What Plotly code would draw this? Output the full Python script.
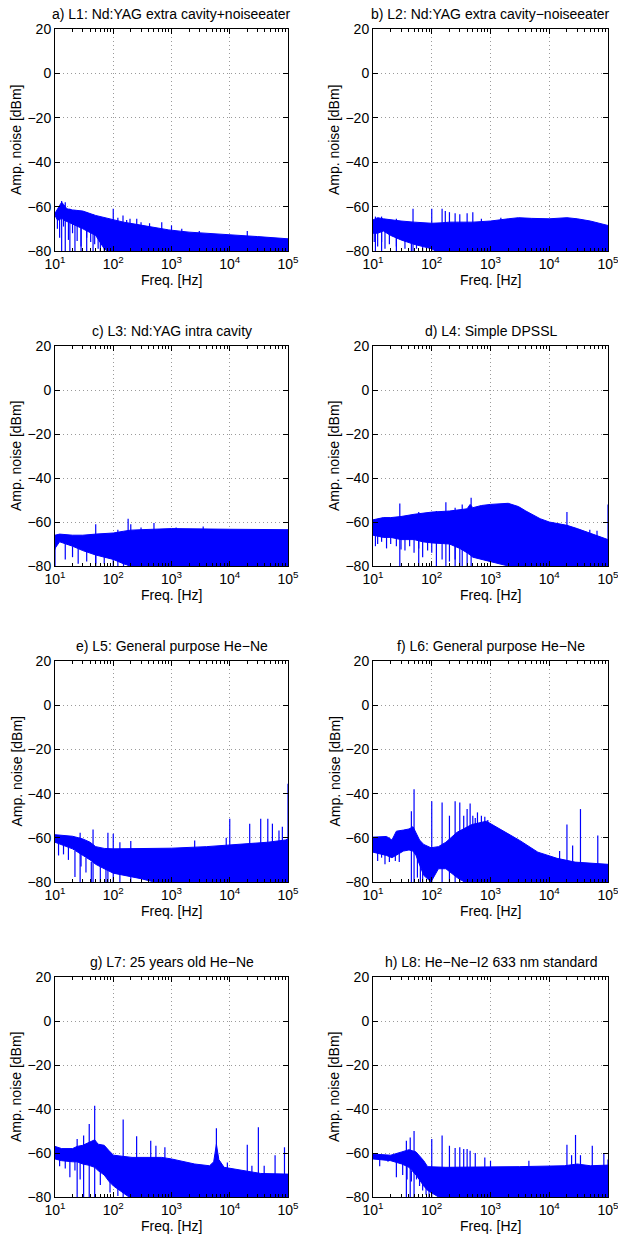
import plotly.graph_objects as go

# ---------------- data ----------------
titles = ["a) L1: Nd:YAG extra cavity+noiseeater",
          "b) L2: Nd:YAG extra cavity\u2212noiseeater",
          "c) L3: Nd:YAG intra cavity",
          "d) L4: Simple DPSSL",
          "e) L5: General purpose He\u2212Ne",
          "f) L6: General purpose He\u2212Ne",
          "g) L7: 25 years old He\u2212Ne",
          "h) L8: He\u2212Ne\u2212I2 633 nm standard"]

# Panel a
a_f = [10, 11, 12, 13, 14, 16, 20, 30, 50, 60, 70, 100, 150, 250, 500, 900, 2000, 4000, 1e4, 3e4, 1e5]
a_up = [-63, -61, -59, -58, -59, -61, -61.5, -62, -64, -64.5, -65, -66, -67, -68, -69.5, -70.5, -71.5, -72, -72.5, -73.5, -74.5]
a_lo = [-64, -66, -66, -65, -66, -67, -68, -70, -73, -76, -79, -82, -82, -82, -82, -82, -82, -82, -82, -82, -82]
a_spk_f = [13, 15, 18, 22, 28, 35, 45, 100, 120, 147, 170, 194, 253, 300, 420, 680, 1000, 1500, 3000, 2e4]
a_spk_v = [-57.5, -58, -61, -61.5, -62, -62.5, -63.5, -61, -65, -64, -66, -65.5, -65.5, -67, -67.5, -67, -68.5, -70, -71, -71]
a_dip_f = [11, 12, 14, 17, 20, 24, 28, 35, 41, 48, 55, 60, 70, 84]
a_dip_lo = [-70, -74, -69, -75, -72, -75.5, -78, -74, -76, -77, -79, -80, -80, -80]
a_dip_hi = [-63, -64, -64, -64, -64, -65, -66, -67, -68, -70, -71, -72, -74, -76]

# Panel b
b_f = [10, 12, 15, 20, 30, 50, 100, 150, 200, 500, 1000, 2000, 3000, 5000, 1e4, 2e4, 3e4, 5e4, 7e4, 1e5]
b_up = [-66, -65, -65.5, -66, -66.5, -67, -67.5, -67.3, -67, -67, -66.5, -65.5, -65, -65.3, -65.5, -65, -65.5, -66.5, -67.5, -68.5]
b_lo = [-72, -72, -71, -73, -75, -77, -79, -82, -82, -82, -82, -82, -82, -82, -82, -82, -82, -82, -82, -82]
b_spk_f = [11, 14, 25, 48, 100, 150, 170, 200, 250, 300, 400, 500, 700, 1500]
b_spk_v = [-64.5, -64.5, -65.5, -61, -61, -61, -62, -62.5, -63, -63.5, -63, -62.5, -65.5, -65]
b_dip_f = [10.5, 12, 14, 16, 19, 25, 35, 45, 55, 70]
b_dip_lo = [-76, -78, -76, -79, -77, -78, -79, -80, -79, -80]
b_dip_hi = [-70, -70, -70, -71, -71, -72, -73, -74, -75, -76]

# Panel c
c_f = [10, 12, 20, 30, 50, 100, 150, 200, 300, 500, 1000, 1e4, 1e5]
c_up = [-66, -65.5, -66, -66, -65.5, -65, -64.2, -63.7, -63.5, -63.2, -63, -63.3, -63.5]
c_lo = [-72, -69, -71, -73, -75, -77, -79, -80, -82, -82, -82, -82, -82]
c_spk_f = [10, 50, 120, 180, 200, 300, 500, 1200, 3500]
c_spk_v = [-66, -61, -63.5, -58.5, -61, -62.5, -60.5, -62.5, -62]
c_dip_f = [10, 15, 20, 25, 35, 50, 70, 100, 150]
c_dip_lo = [-72.5, -77, -76, -79, -78, -79, -79, -80, -80]
c_dip_hi = [-68, -70, -71, -72, -73, -74, -75, -76, -78]

# Panel d
d_f = [10, 15, 20, 30, 50, 70, 100, 200, 300, 400, 450, 500, 700, 1000, 2000, 3000, 4000, 5000, 7000, 1e4, 2e4, 3e4, 5e4, 7e4, 1e5]
d_up = [-59, -58, -58, -57.5, -56.5, -56, -55.5, -55, -54.5, -54, -52, -53.5, -52.5, -52, -51.5, -53, -55, -56.5, -58.5, -60, -61.5, -63, -65, -66.5, -68]
d_lo = [-66, -67, -67, -68, -68, -69, -69.5, -70, -72, -74, -75, -76, -77, -78, -80, -82, -82, -82, -82, -82, -82, -82, -82, -82, -82]
d_spk_f = [28.6, 60, 120, 174, 250, 330, 468, 2e4, 4.9e4, 6.5e4, 1e5]
d_spk_v = [-51.6, -55.5, -55, -51, -53.5, -52, -49, -55.4, -63.5, -64, -52]
d_dip_f = [11, 12, 14, 17, 20, 25, 30, 35, 42, 50, 60, 70, 85, 100, 150, 200, 250, 300, 400]
d_dip_lo = [-71, -70, -69, -72, -70, -71, -72.5, -73, -71, -74, -72, -76, -73, -74, -77, -78, -77, -80, -80]
d_dip_hi = [-64, -64, -64, -65, -65, -65, -66, -66, -66, -66, -67, -67, -67, -67, -68, -68, -69, -70, -72]

# Panel e
e_f = [10, 20, 30, 40, 50, 70, 100, 300, 1000, 4000, 8000, 1.6e4, 4.5e4, 9e4, 1e5]
e_up = [-58.6, -59.3, -60.5, -62, -64, -64.8, -65, -65, -64.7, -64, -63.5, -62.7, -62, -61, -60.5]
e_lo = [-62, -65, -68, -70, -72, -74, -76, -78.5, -82, -82, -82, -82, -82, -82, -82]
e_spk_f = [27, 45, 81, 100, 130, 200, 2500, 8700, 1e4, 2.2e4, 3.4e4, 4.5e4, 5.4e4, 7e4, 8e4, 1e5]
e_spk_v = [-57.7, -56.2, -57.7, -58.2, -62, -61.5, -61.2, -60, -51.4, -53.6, -51.4, -51.4, -53.6, -56.7, -55, -35.5]
e_dip_f = [11.5, 14, 17, 22, 28, 34, 42, 60, 75]
e_dip_lo = [-68, -67.5, -70, -77.7, -73, -75.7, -80, -80, -80]
e_dip_hi = [-62, -63, -64, -66, -67, -69, -71, -73, -74]

# Panel f
f_f = [10, 17, 21, 25, 33, 41, 48, 54, 62, 73, 97, 130, 174, 270, 480, 850, 1140, 2040, 3140, 6400, 1.36e4, 2.75e4, 1e5]
f_up = [-59.7, -59.4, -61, -57, -56.5, -56, -55, -58, -61, -63, -64.5, -64, -62, -57.5, -54, -52.5, -54.5, -58.2, -61.2, -66.5, -69.3, -71, -72]
f_lo = [-66.5, -68, -69, -68, -66, -65.5, -66, -68, -72, -77, -80, -74, -74, -78, -82, -82, -82, -82, -82, -82, -82, -82, -82]
f_spk_f = [45, 50, 100, 150, 200, 250, 300, 350, 400, 450, 500, 550, 600, 700, 800, 900, 1.5e4, 2e4, 2.5e4, 3.4e4, 6.7e4]
f_spk_v = [-48, -38, -43.5, -44, -50, -43.5, -44, -50, -47, -44.5, -50, -51, -48.5, -50, -50.5, -52, -66, -54, -63.5, -47, -59]
f_dip_f = [12, 14, 16, 19, 24, 28, 57, 64, 70]
f_dip_lo = [-70.5, -69, -72, -71, -70.5, -71, -78, -80, -80]
f_dip_hi = [-64, -64, -65, -65, -64, -63, -66, -70, -74]

# Panel g
g_f = [10, 13, 20, 24, 30, 37, 48, 55, 70, 85, 101, 210, 680, 1000, 2500, 4500, 5300, 5900, 6500, 8000, 1.7e4, 3.4e4, 1e5]
g_up = [-57, -58, -58, -57, -56.5, -55.5, -54, -56, -56.5, -59, -61, -62, -62, -62.7, -65, -65.8, -64, -56, -63, -66.5, -68, -69.3, -69.6]
g_lo = [-62.7, -63.5, -64, -64, -65, -65.5, -66.5, -68, -70, -73, -75, -81, -82, -82, -82, -82, -82, -82, -82, -82, -82, -82, -82]
g_spk_f = [24, 31, 38.7, 48, 148, 252, 440, 540, 770, 5900, 9100, 2e4, 2.4e4, 3.1e4, 3.9e4, 6e4, 8.7e4]
g_spk_v = [-53.6, -52, -46.8, -38.5, -44.8, -52.4, -54.4, -56.7, -57.4, -48.7, -64.3, -56.2, -65.8, -48.3, -65.8, -61, -57.4]
g_dip_f = [12, 15, 18, 22, 27, 60, 88, 120]
g_dip_lo = [-66, -67, -71, -68, -72, -74.6, -78, -79.5]
g_dip_hi = [-62, -62, -63, -63, -64, -67, -70, -73]

# Panel h
h_f = [10, 20, 31, 41, 54, 63, 73, 85, 174, 3140, 1.8e4, 3e4, 5e4, 1e5]
h_up = [-60.5, -61, -59.5, -58.5, -59.5, -61.5, -63.5, -66.2, -66.5, -66.2, -65.8, -65, -65.8, -65.5]
h_lo = [-62.7, -63.5, -65, -66.5, -70, -72.5, -75, -77, -82, -82, -82, -82, -82, -82]
h_spk_f = [37, 43, 50, 100, 150, 200, 250, 300, 350, 400, 450, 550, 800, 1000, 4500, 2e4, 2.4e4, 2.8e4, 3.4e4, 5.4e4, 8.5e4, 1e5]
h_spk_v = [-54.4, -53, -50, -53.6, -52, -56.7, -57.7, -57.4, -58.2, -58.2, -59, -60, -62, -63.5, -63.5, -56.2, -61, -51.8, -61, -56.7, -60, -63]
h_dip_f = [13, 18, 25, 32, 38, 45, 55, 62, 70, 80, 90]
h_dip_lo = [-66, -64, -71, -70, -72, -73, -72, -75, -77, -79, -80]
h_dip_hi = [-62, -62, -64, -65, -66, -68, -69, -71, -73, -75, -77]

panels = [
    (a_f, a_up, a_lo, a_spk_f, a_spk_v, a_dip_f, a_dip_lo, a_dip_hi),
    (b_f, b_up, b_lo, b_spk_f, b_spk_v, b_dip_f, b_dip_lo, b_dip_hi),
    (c_f, c_up, c_lo, c_spk_f, c_spk_v, c_dip_f, c_dip_lo, c_dip_hi),
    (d_f, d_up, d_lo, d_spk_f, d_spk_v, d_dip_f, d_dip_lo, d_dip_hi),
    (e_f, e_up, e_lo, e_spk_f, e_spk_v, e_dip_f, e_dip_lo, e_dip_hi),
    (f_f, f_up, f_lo, f_spk_f, f_spk_v, f_dip_f, f_dip_lo, f_dip_hi),
    (g_f, g_up, g_lo, g_spk_f, g_spk_v, g_dip_f, g_dip_lo, g_dip_hi),
    (h_f, h_up, h_lo, h_spk_f, h_spk_v, h_dip_f, h_dip_lo, h_dip_hi),
]

x_tickvals = [10, 100, 1000, 10000, 100000]
x_ticktext = ["10<sup>1</sup>", "10<sup>2</sup>", "10<sup>3</sup>", "10<sup>4</sup>", "10<sup>5</sup>"]
y_tickvals = [-80, -60, -40, -20, 0, 20]

# ---------------- layout ----------------
W, H = 618, 1237
col_px = [(55, 288), (373, 608)]
row_px = [(29, 251), (346, 566), (661, 882), (977, 1197)]
FONT = "Liberation Sans, Arial, Helvetica, sans-serif"
BLUE = "#0000ff"
GRID = "#9a9a9a"

minor_vals = [m * 10 ** k for k in range(1, 5) for m in range(2, 10)]

fig = go.Figure()
layout = dict(width=W, height=H, autosize=False,
              margin=dict(l=0, r=0, t=0, b=0, pad=0, autoexpand=False),
              paper_bgcolor="white", plot_bgcolor="white", showlegend=False,
              font=dict(family=FONT, size=14, color="black"))
annotations = []

for i, (fq, up, lo, sf, sv, df, dlo, dhi) in enumerate(panels):
    r, c = divmod(i, 2)
    x0, x1 = col_px[c]
    y0, y1 = row_px[r]
    xs = "x" if i == 0 else f"x{i+1}"
    ys = "y" if i == 0 else f"y{i+1}"
    xk = "xaxis" if i == 0 else f"xaxis{i+1}"
    yk = "yaxis" if i == 0 else f"yaxis{i+1}"

    # noise band
    fig.add_trace(go.Scatter(x=list(fq) + list(fq)[::-1], y=list(up) + list(lo)[::-1],
                             mode="lines", fill="toself", fillcolor=BLUE,
                             line=dict(color=BLUE, width=1), xaxis=xs, yaxis=ys,
                             hoverinfo="skip"))
    # spikes
    sx, sy = [], []
    for fv, vv in zip(sf, sv):
        sx += [fv, fv, None]
        sy += [-80, vv, None]
    fig.add_trace(go.Scatter(x=sx, y=sy, mode="lines", line=dict(color=BLUE, width=1.2),
                             xaxis=xs, yaxis=ys, hoverinfo="skip"))
    # downward dips
    dx, dy = [], []
    for fv, l, h in zip(df, dlo, dhi):
        dx += [fv, fv, None]
        dy += [l, h, None]
    fig.add_trace(go.Scatter(x=dx, y=dy, mode="lines", line=dict(color=BLUE, width=1.2),
                             xaxis=xs, yaxis=ys, hoverinfo="skip"))

    common = dict(ticks="inside", ticklen=5, tickcolor="black", tickwidth=1,
                  showline=True, linecolor="black", linewidth=1, mirror="ticks",
                  showgrid=True, gridcolor=GRID, griddash="1px,3px", gridwidth=1,
                  zeroline=False, automargin=False, ticklabeloverflow="allow",
                  tickfont=dict(size=14, family=FONT, color="black"), fixedrange=True)
    layout[xk] = dict(type="log", range=[1, 5], domain=[x0 / W, x1 / W], anchor=ys,
                      tickmode="array", tickvals=x_tickvals, ticktext=x_ticktext,
                      minor=dict(tickmode="array", tickvals=minor_vals, ticks="inside",
                                 ticklen=3, tickcolor="black", showgrid=False),
                      **common)
    layout[yk] = dict(range=[-80, 20], domain=[1 - y1 / H, 1 - y0 / H], anchor=xs,
                      tickmode="array", tickvals=y_tickvals, **common)

    xc = (x0 + x1) / 2 / W
    annotations.append(dict(text=titles[i], x=xc, y=1 - (y0 - 15) / H, xref="paper", yref="paper",
                            xanchor="center", yanchor="middle", showarrow=False,
                            font=dict(size=14, family=FONT, color="black")))
    annotations.append(dict(text="Freq. [Hz]", x=xc, y=1 - (y1 + 29) / H, xref="paper", yref="paper",
                            xanchor="center", yanchor="middle", showarrow=False,
                            font=dict(size=14, family=FONT, color="black")))
    annotations.append(dict(text="Amp. noise [dBm]", x=(x0 - 39) / W, y=1 - (y0 + y1) / 2 / H,
                            xref="paper", yref="paper", xanchor="center", yanchor="middle",
                            textangle=-90, showarrow=False,
                            font=dict(size=14, family=FONT, color="black")))

layout["annotations"] = annotations
fig.update_layout(**layout)
fig.write_html("out.html",
               config={"displayModeBar": False, "staticPlot": True},
               post_script="document.body.style.margin='0px';"
                           "document.body.style.padding='0px';"
                           "document.body.style.overflow='hidden';")
